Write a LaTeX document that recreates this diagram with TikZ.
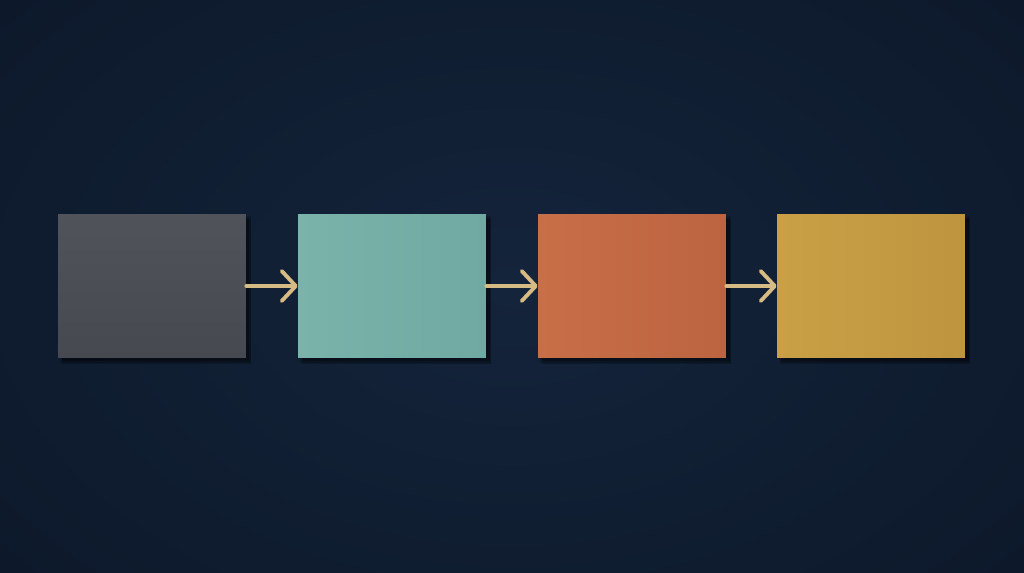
\documentclass[tikz,border=0pt]{standalone}
\usetikzlibrary{arrows.meta,shadows}
\definecolor{bgmid}{HTML}{14243B}
\definecolor{bgout}{HTML}{0D192B}
\definecolor{grayA}{HTML}{505359}
\definecolor{grayB}{HTML}{46494F}
\definecolor{tealA}{HTML}{79B3AA}
\definecolor{tealB}{HTML}{6FA9A1}
\definecolor{oranA}{HTML}{C86F48}
\definecolor{oranB}{HTML}{BC6440}
\definecolor{goldA}{HTML}{CAA046}
\definecolor{goldB}{HTML}{BE953F}
\definecolor{arrowc}{HTML}{D6BC84}
\begin{document}
\begin{tikzpicture}[x=0.02cm,y=-0.02cm,
  card/.style={minimum width=3.76cm,minimum height=2.88cm,inner sep=0pt,
    general shadow={shadow xshift=2pt,shadow yshift=-2pt,shadow scale=1.02,opacity=0.18,fill=black},
    general shadow={shadow xshift=2.5pt,shadow yshift=-3pt,shadow scale=1.01,opacity=0.22,fill=black},
    general shadow={shadow xshift=2pt,shadow yshift=-2pt,opacity=0.25,fill=black}},
  flow/.style={draw=arrowc,line width=2.2pt,line cap=round,
    -{Straight Barb[length=0.28cm,width=0.6cm,line width=2.2pt,round]}}]
\useasboundingbox (0,0) rectangle (1024,573);
\fill[bgout] (0,0) rectangle (1024,573);
\shade[inner color=bgmid,outer color=bgout] (-150,-150) rectangle (1174,723);
\node[card,shading=axis,top color=grayA,bottom color=grayB] (b1) at (152,286) {};
\node[card,shading=axis,left color=tealA,right color=tealB] (b2) at (392,286) {};
\node[card,shading=axis,left color=oranA,right color=oranB] (b3) at (632,286) {};
\node[card,shading=axis,left color=goldA,right color=goldB] (b4) at (871,286) {};
\draw[flow] (b1.east) -- (b2.west);
\draw[flow] (b2.east) -- (b3.west);
\draw[flow] (b3.east) -- (b4.west);
\end{tikzpicture}
\end{document}
